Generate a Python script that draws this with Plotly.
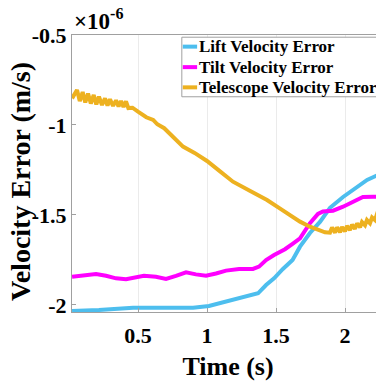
import plotly.graph_objects as go

# ---- data, values in units of 1e-6 m/s ----
lift_t = [0.022, 0.217, 0.464, 0.703, 0.899, 1.014, 1.138, 1.261, 1.37, 1.428, 1.486,
          1.55, 1.62, 1.674, 1.746, 1.82, 1.891, 1.986, 2.058, 2.16, 2.283]
lift_v = [-2.033, -2.028, -2.015, -2.015, -2.015, -2.006, -1.982, -1.96, -1.935, -1.889, -1.852,
          -1.80, -1.75, -1.676, -1.60, -1.537, -1.46, -1.40, -1.36, -1.305, -1.263]

tilt_t = [0.022, 0.099, 0.196, 0.268, 0.341, 0.413, 0.486, 0.543, 0.63, 0.703, 0.775,
          0.848, 0.92, 0.993, 1.065, 1.138, 1.232, 1.333, 1.377, 1.428, 1.486, 1.565,
          1.62, 1.674, 1.746, 1.804, 1.84, 1.913, 1.986, 2.058, 2.13, 2.203, 2.283]
tilt_v = [-1.843, -1.838, -1.828, -1.838, -1.852, -1.857, -1.846, -1.838, -1.843, -1.855, -1.838,
          -1.819, -1.83, -1.838, -1.825, -1.809, -1.80, -1.80, -1.787, -1.75, -1.722, -1.69,
          -1.66, -1.63, -1.546, -1.494, -1.48, -1.476, -1.454, -1.426, -1.40, -1.398, -1.40]

tele_t = [0.022, 0.058, 0.078, 0.099, 0.118, 0.138, 0.158, 0.179, 0.198, 0.217, 0.239,
          0.261, 0.279, 0.297, 0.319, 0.341, 0.359, 0.377, 0.395, 0.413, 0.43, 0.46,
          0.50, 0.56, 0.61, 0.64, 0.69, 0.76, 0.826, 0.91, 1.0, 1.09, 1.188, 1.31,
          1.435, 1.53, 1.623, 1.674, 1.746, 1.819, 1.855, 1.891, 1.906, 1.928, 1.942,
          1.964, 1.978, 2.0, 2.014, 2.036, 2.051, 2.072, 2.087, 2.109, 2.123, 2.145,
          2.159, 2.181, 2.196, 2.217, 2.232, 2.254, 2.268, 2.283]
tele_v = [-0.852, -0.806, -0.867, -0.817, -0.875, -0.825, -0.881, -0.833, -0.886, -0.843, -0.889,
          -0.852, -0.892, -0.857, -0.894, -0.863, -0.897, -0.867, -0.90, -0.869, -0.906, -0.904,
          -0.926, -0.957, -0.972, -0.996, -1.018, -1.07, -1.12, -1.155, -1.20, -1.255, -1.315, -1.365,
          -1.417, -1.465, -1.51, -1.537, -1.565, -1.587, -1.596, -1.598, -1.569, -1.598, -1.569,
          -1.596, -1.567, -1.591, -1.561, -1.583, -1.554, -1.577, -1.547, -1.568, -1.539, -1.557,
          -1.528, -1.546, -1.514, -1.528, -1.494, -1.509, -1.472, -1.483]

series_names = ["Lift Velocity Error", "Tilt Velocity Error", "Telescope Velocity Error"]
series_colors = ["#4DBEEE", "#FF00FF", "#EDB120"]

x_ticks = [0.5, 1, 1.5, 2]
x_tick_labels = ["0.5", "1", "1.5", "2"]
y_ticks = [-0.5, -1, -1.5, -2]
y_tick_labels = ["-0.5", "-1", "-1.5", "-2"]

FONT = "Liberation Serif"

fig = go.Figure()
for t, v, name, col in zip([lift_t, tilt_t, tele_t], [lift_v, tilt_v, tele_v],
                           series_names, series_colors):
    fig.add_trace(go.Scatter(x=t, y=v, mode="lines", name=name,
                             line=dict(color=col, width=4), showlegend=False))

# the page body adds an 8px margin, so the figure is sized/margined to compensate
fig.update_layout(
    width=376, height=377,
    margin=dict(l=64, r=0, t=27, b=73),
    plot_bgcolor="white", paper_bgcolor="white",
    font=dict(family=FONT, color="black"),
    showlegend=False,
    xaxis=dict(range=[0.0217, 2.2826], tickvals=x_ticks, ticktext=x_tick_labels,
               automargin=False,
               showgrid=True, gridcolor="#ebebeb", gridwidth=1, zeroline=False,
               showline=True, linecolor="#a0a0a0", mirror=True, ticks="inside",
               ticklen=4, tickcolor="#a0a0a0", ticklabelstandoff=4,
               tickfont=dict(family=FONT, size=22, weight="bold", color="black"),
               title=dict(text="Time (s)", standoff=9,
                          font=dict(family=FONT, size=26, weight="bold", color="black"))),
    yaxis=dict(range=[-2.039, -0.5], tickvals=y_ticks, ticktext=y_tick_labels,
               automargin=False,
               showgrid=False, zeroline=False,
               showline=True, linecolor="#a0a0a0", mirror=True, ticks="inside",
               ticklen=4, tickcolor="#a0a0a0",
               tickfont=dict(family=FONT, size=22, weight="bold", color="black")),
)

# y-axis title
fig.add_annotation(text="Velocity Error (m/s)", xref="paper", yref="paper",
                   x=-0.163, y=0.47, xanchor="center", yanchor="middle", textangle=-90,
                   showarrow=False,
                   font=dict(family=FONT, size=28, weight="bold", color="black"))

# exponent label
fig.add_annotation(text="×10<sup>-6</sup>", xref="paper", yref="paper", x=0, y=1,
                   xanchor="left", yanchor="bottom", yshift=-1, showarrow=False,
                   font=dict(family=FONT, size=23, weight="bold", color="black"))

# legend box (MATLAB style, drawn in paper coordinates)
leg_x0, leg_x1, leg_y0, leg_y1 = 0.352, 0.994, 0.777, 0.992
fig.add_shape(type="rect", xref="paper", yref="paper", x0=leg_x0, x1=leg_x1, y0=leg_y0, y1=leg_y1,
              line=dict(color="#a0a0a0", width=1), fillcolor="white", layer="above")
row_y = [0.958, 0.884, 0.811]
for name, col, ry in zip(series_names, series_colors, row_y):
    fig.add_shape(type="line", xref="paper", yref="paper", x0=0.355, x1=0.401, y0=ry, y1=ry,
                  line=dict(color=col, width=4), layer="above")
    fig.add_annotation(text=name, xref="paper", yref="paper", x=0.402, y=ry,
                       xanchor="left", yanchor="middle", showarrow=False,
                       font=dict(family=FONT, size=17, weight="bold", color="black"))

fig.write_html("out.html")
